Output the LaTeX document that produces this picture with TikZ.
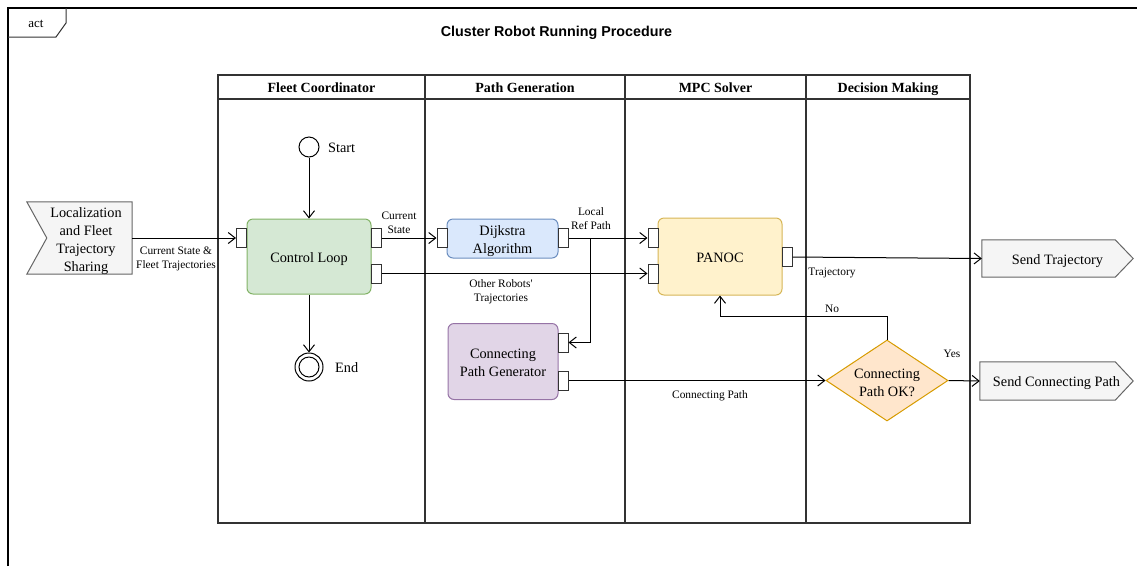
\documentclass[tikz,border=0pt]{standalone}
\usepackage{fontspec}
\setmainfont{Liberation Serif}
\newfontfamily\titlefont{Liberation Sans}
\usetikzlibrary{arrows.meta,shapes.geometric,backgrounds}

\definecolor{laneGray}{HTML}{333333}
\definecolor{pinGray}{HTML}{333333}
\definecolor{ioFill}{HTML}{F5F5F5}
\definecolor{ioLine}{HTML}{666666}
\definecolor{greenFill}{HTML}{D5E8D4}
\definecolor{greenLine}{HTML}{82B366}
\definecolor{blueFill}{HTML}{DAE8FC}
\definecolor{blueLine}{HTML}{6C8EBF}
\definecolor{purpleFill}{HTML}{E1D5E7}
\definecolor{purpleLine}{HTML}{9673A6}
\definecolor{yellowFill}{HTML}{FFF2CC}
\definecolor{yellowLine}{HTML}{D6B656}
\definecolor{orangeFill}{HTML}{FFE6CC}
\definecolor{orangeLine}{HTML}{D79B00}

% centred block of lines with struts, so descenders do not shift it;
% the ink is lowered a little while the box keeps its size
\newcommand\stacked[2][2pt]{\raisebox{-#1}[\height][\depth]{\begin{tabular}{@{}c@{}}#2\end{tabular}}}

\tikzset{
  lane/.style={draw=laneGray, line width=1.2pt},
  header/.style={font=\bfseries\fontsize{14}{17}\selectfont, inner sep=0pt},
  actbox/.style={rounded corners=6pt, line width=1pt, align=center, inner sep=0pt,
                 font=\fontsize{14.3}{18}\selectfont},
  pin/.style={draw=pinGray, fill=white, minimum width=10pt, minimum height=19pt,
              inner sep=0pt, line width=1pt},
  flow/.style={draw=black, line width=1pt, -{Straight Barb[length=7pt,width=11pt]}},
  lbl/.style={font=\fontsize{11.4}{14}\selectfont, align=center, inner sep=0pt},
  iotext/.style={font=\fontsize{14.3}{18}\selectfont, align=center, inner sep=0pt},
  ioshape/.style={fill=ioFill, draw=ioLine, line width=1pt},
  bigtext/.style={font=\fontsize{14.3}{18}\selectfont, inner sep=0pt},
}

\begin{document}
\begin{tikzpicture}[x=1pt, y=-1pt]
\useasboundingbox (0,0) rectangle (1137,566);

% outer activity frame and its tab
\draw[line width=1.2pt] (8,566) -- (8,8) -- (1137,8);
\draw[line width=1pt, draw=laneGray] (8,37) -- (56,37) -- (66,23) -- (66,8);
\node[font=\fontsize{13}{16}\selectfont, inner sep=0pt] (actlabel) at (36,23) {\stacked[1pt]{act}};

% title
\node[font=\titlefont\bfseries\fontsize{14.3}{17}\selectfont, inner sep=0pt] (title) at (556.5,32)
  {\stacked[1pt]{Cluster Robot Running Procedure}};

% swimlanes
\draw[lane] (218,75) rectangle (970,523);
\draw[lane] (218,99) -- (970,99);
\foreach \xd in {425,625,806} \draw[lane] (\xd,75) -- (\xd,523);
\node[header] (h1) at (321.5,87.5) {\stacked[2pt]{Fleet Coordinator}};
\node[header] (h2) at (525,87.5) {\stacked[2pt]{Path Generation}};
\node[header] (h3) at (715.5,87.5) {\stacked[2pt]{MPC Solver}};
\node[header] (h4) at (888,87.5) {\stacked[2pt]{Decision Making}};

% input and output signals
\node[iotext, minimum width=105pt, minimum height=71pt] (loc) at (79.5,238)
  {\hspace*{13pt}\stacked[3pt]{Localization\\and Fleet\\Trajectory\\Sharing}};
\node[iotext, minimum width=151pt, minimum height=37pt] (sendT) at (1057.5,258.5) {\stacked{Send Trajectory}};
\node[iotext, minimum width=153pt, minimum height=38pt] (sendC) at (1056.5,381) {\stacked{Send Connecting Path}};
\begin{scope}[on background layer]
  \draw[ioshape] (loc.north west) -- (loc.north east) -- (loc.south east) -- (loc.south west)
        -- ([xshift=20pt]loc.west) -- cycle;
  \draw[ioshape] (sendT.north west) -- ([xshift=-18pt]sendT.north east) -- (sendT.east)
        -- ([xshift=-18pt]sendT.south east) -- (sendT.south west) -- cycle;
  \draw[ioshape] (sendC.north west) -- ([xshift=-18pt]sendC.north east) -- (sendC.east)
        -- ([xshift=-18pt]sendC.south east) -- (sendC.south west) -- cycle;
\end{scope}

% initial and final nodes
\node[circle, draw=black, line width=1pt, minimum size=20pt, inner sep=0pt] (start) at (309,147) {};
\node[bigtext, anchor=west] (startlbl) at (328,147) {\stacked[2pt]{Start}};
\node[circle, draw=black, line width=1pt, minimum size=28pt, inner sep=0pt] (end) at (309,367) {};
\draw[line width=1pt] (end.center) circle[radius=10pt];
\node[bigtext, anchor=west] (endlbl) at (335,367) {\stacked[2pt]{End}};

% actions
\node[actbox, fill=greenFill, draw=greenLine, minimum width=124pt, minimum height=75pt]
  (ctrl) at (309,256.5) {\stacked{Control Loop}};
\node[actbox, fill=blueFill, draw=blueLine, minimum width=111pt, minimum height=39pt]
  (dij) at (502.5,238.5) {\stacked{Dijkstra\\Algorithm}};
\node[actbox, fill=purpleFill, draw=purpleLine, minimum width=110pt, minimum height=76pt]
  (cpg) at (503,361.5) {\stacked{Connecting\\Path Generator}};
\node[actbox, fill=yellowFill, draw=yellowLine, minimum width=124pt, minimum height=77pt]
  (pan) at (720,256.5) {\stacked{PANOC}};
\node[diamond, fill=orangeFill, draw=orangeLine, line width=1pt, inner sep=0pt, aspect=1.5,
      minimum width=122pt, minimum height=81pt, align=center,
      font=\fontsize{14.3}{18}\selectfont] (dec) at (887,380.5) {\stacked[3pt]{Connecting\\Path OK?}};

% pins
\node[pin] (ctrlIn)   at (241.5,238) {};
\node[pin] (ctrlOut1) at (376,238) {};
\node[pin] (ctrlOut2) at (376,273.5) {};
\node[pin] (dijIn)    at (442,238) {};
\node[pin] (dijOut)   at (563,238) {};
\node[pin] (panIn1)   at (653,238) {};
\node[pin] (panIn2)   at (653,273.5) {};
\node[pin] (panOut)   at (787,257) {};
\node[pin] (cpgIn)    at (563,342.5) {};
\node[pin] (cpgOut)   at (563,380.5) {};

% control flow
\draw[flow] (start.south) -- (ctrl.north);
\draw[flow] (ctrl.south) -- (end.north);

% object flows
\draw[flow] (loc.east) -- (ctrlIn.west);
\draw[flow] (ctrlOut1.east) -- (dijIn.west);
\draw[flow] (dijOut.east) -- (panIn1.west);
\coordinate (split) at (590,238);
\draw[flow] (split) |- (cpgIn.east);
\draw[flow] (ctrlOut2.east) -- (panIn2.west);
\draw[flow] (panOut.east) -- (sendT.west);
\draw[flow] (cpgOut.east) -- (dec.west);
\draw[flow] (dec.north) -- ++(0,-23) -| (pan.south);
\draw[flow] (dec.east) -- (sendC.west);

% flow labels
\node[lbl] (lblCS)   at (176,257) {\stacked{Current State \&\\Fleet Trajectories}};
\node[lbl] (lblCur)  at (399,222) {\stacked{Current\\State}};
\node[lbl] (lblRef)  at (591,218) {\stacked{Local\\Ref Path}};
\node[lbl] (lblOth)  at (501,290) {\stacked{Other Robots\textquotesingle\\Trajectories}};
\node[lbl] (lblTraj) at (832,271) {\stacked{Trajectory}};
\node[lbl] (lblConn) at (710,394) {\stacked{Connecting Path}};
\node[lbl] (lblNo)   at (832,309) {\stacked[1pt]{No}};
\node[lbl] (lblYes)  at (952,354) {\stacked[1pt]{Yes}};
\end{tikzpicture}
\end{document}
